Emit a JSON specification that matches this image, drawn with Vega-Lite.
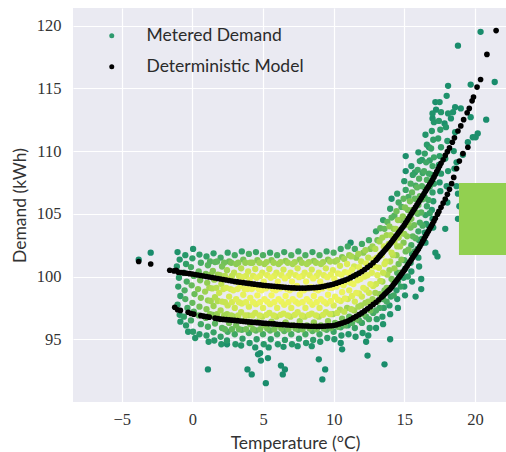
{
  "$schema": "https://vega.github.io/schema/vega-lite/v6.json",
  "width": 433,
  "height": 394,
  "autosize": "none",
  "padding": {"left": 73, "top": 8, "right": 0, "bottom": 50},
  "background": "#ffffff",
  "datasets": {
    "metered": [
      {"temp":-1.05,"kwh":101.95,"dens":0.08},{"temp":-0.9,"kwh":101.35,"dens":0.12},{"temp":-1.1,"kwh":100.8,"dens":0.14},{"temp":-0.95,"kwh":99.9,"dens":0.18},{"temp":-1.0,"kwh":99.2,"dens":0.2},{"temp":-0.85,"kwh":98.45,"dens":0.2},{"temp":-1.05,"kwh":97.75,"dens":0.18},{"temp":-0.9,"kwh":96.95,"dens":0.15},{"temp":-0.85,"kwh":96.4,"dens":0.12},
      {"temp":-0.5,"kwh":101.7,"dens":0.14},{"temp":-0.45,"kwh":101.0,"dens":0.2},{"temp":-0.6,"kwh":100.3,"dens":0.25},{"temp":-0.4,"kwh":99.6,"dens":0.3},{"temp":-0.55,"kwh":98.9,"dens":0.32},{"temp":-0.5,"kwh":98.2,"dens":0.32},{"temp":-0.35,"kwh":97.5,"dens":0.28},{"temp":-0.6,"kwh":96.8,"dens":0.22},{"temp":-0.45,"kwh":96.1,"dens":0.16},{"temp":-0.3,"kwh":95.6,"dens":0.12},
      {"temp":0.05,"kwh":102.2,"dens":0.1},{"temp":0.0,"kwh":101.45,"dens":0.2},{"temp":-0.1,"kwh":100.75,"dens":0.3},{"temp":0.1,"kwh":100.05,"dens":0.36},{"temp":-0.05,"kwh":99.3,"dens":0.4},{"temp":0.15,"kwh":98.6,"dens":0.42},{"temp":0.0,"kwh":97.9,"dens":0.4},{"temp":0.1,"kwh":97.2,"dens":0.35},{"temp":-0.1,"kwh":96.5,"dens":0.28},{"temp":0.05,"kwh":95.6,"dens":0.18},{"temp":0.2,"kwh":95.1,"dens":0.12},
      {"temp":0.5,"kwh":101.75,"dens":0.2},{"temp":0.6,"kwh":101.1,"dens":0.3},{"temp":0.45,"kwh":100.4,"dens":0.4},{"temp":0.55,"kwh":99.7,"dens":0.46},{"temp":0.4,"kwh":99.0,"dens":0.5},{"temp":0.6,"kwh":98.3,"dens":0.5},{"temp":0.5,"kwh":97.6,"dens":0.45},{"temp":0.45,"kwh":96.9,"dens":0.38},{"temp":0.6,"kwh":96.2,"dens":0.28},{"temp":0.5,"kwh":95.4,"dens":0.16},
      {"temp":1.0,"kwh":101.6,"dens":0.22},{"temp":1.1,"kwh":100.9,"dens":0.36},{"temp":0.95,"kwh":100.2,"dens":0.46},{"temp":1.05,"kwh":99.5,"dens":0.54},{"temp":0.9,"kwh":98.8,"dens":0.58},{"temp":1.1,"kwh":98.1,"dens":0.56},{"temp":1.0,"kwh":97.4,"dens":0.5},{"temp":0.95,"kwh":96.7,"dens":0.4},{"temp":1.1,"kwh":96.0,"dens":0.3},{"temp":1.0,"kwh":95.3,"dens":0.18},{"temp":1.15,"kwh":94.8,"dens":0.12},
      {"temp":1.5,"kwh":101.85,"dens":0.2},{"temp":1.6,"kwh":101.15,"dens":0.38},{"temp":1.45,"kwh":100.45,"dens":0.5},{"temp":1.55,"kwh":99.75,"dens":0.6},{"temp":1.4,"kwh":99.05,"dens":0.66},{"temp":1.6,"kwh":98.35,"dens":0.66},{"temp":1.5,"kwh":97.65,"dens":0.58},{"temp":1.45,"kwh":96.95,"dens":0.48},{"temp":1.6,"kwh":96.25,"dens":0.36},{"temp":1.5,"kwh":95.55,"dens":0.24},{"temp":1.55,"kwh":94.9,"dens":0.14},
      {"temp":2.0,"kwh":101.5,"dens":0.28},{"temp":2.1,"kwh":100.8,"dens":0.46},{"temp":1.95,"kwh":100.1,"dens":0.6},{"temp":2.05,"kwh":99.4,"dens":0.7},{"temp":1.9,"kwh":98.7,"dens":0.74},{"temp":2.1,"kwh":98.0,"dens":0.72},{"temp":2.0,"kwh":97.3,"dens":0.62},{"temp":1.95,"kwh":96.6,"dens":0.5},{"temp":2.1,"kwh":95.9,"dens":0.36},{"temp":2.0,"kwh":95.2,"dens":0.22},{"temp":2.05,"kwh":94.6,"dens":0.12},
      {"temp":2.5,"kwh":101.9,"dens":0.22},{"temp":2.6,"kwh":101.2,"dens":0.42},{"temp":2.45,"kwh":100.5,"dens":0.6},{"temp":2.55,"kwh":99.8,"dens":0.72},{"temp":2.4,"kwh":99.1,"dens":0.8},{"temp":2.6,"kwh":98.4,"dens":0.8},{"temp":2.5,"kwh":97.7,"dens":0.72},{"temp":2.45,"kwh":97.0,"dens":0.6},{"temp":2.6,"kwh":96.3,"dens":0.45},{"temp":2.5,"kwh":95.6,"dens":0.3},{"temp":2.45,"kwh":94.9,"dens":0.16},
      {"temp":3.0,"kwh":101.7,"dens":0.3},{"temp":3.1,"kwh":101.0,"dens":0.52},{"temp":2.95,"kwh":100.3,"dens":0.7},{"temp":3.05,"kwh":99.6,"dens":0.82},{"temp":2.9,"kwh":98.9,"dens":0.87},{"temp":3.1,"kwh":98.2,"dens":0.85},{"temp":3.0,"kwh":97.5,"dens":0.74},{"temp":2.95,"kwh":96.8,"dens":0.6},{"temp":3.1,"kwh":96.1,"dens":0.44},{"temp":3.0,"kwh":95.4,"dens":0.28},{"temp":3.05,"kwh":94.6,"dens":0.14},
      {"temp":3.5,"kwh":102.0,"dens":0.22},{"temp":3.6,"kwh":101.35,"dens":0.45},{"temp":3.45,"kwh":100.65,"dens":0.68},{"temp":3.55,"kwh":99.95,"dens":0.84},{"temp":3.4,"kwh":99.25,"dens":0.91},{"temp":3.6,"kwh":98.55,"dens":0.91},{"temp":3.5,"kwh":97.85,"dens":0.84},{"temp":3.45,"kwh":97.15,"dens":0.7},{"temp":3.6,"kwh":96.45,"dens":0.52},{"temp":3.5,"kwh":95.75,"dens":0.36},{"temp":3.55,"kwh":95.05,"dens":0.2},{"temp":3.45,"kwh":94.5,"dens":0.12},
      {"temp":4.0,"kwh":101.8,"dens":0.32},{"temp":4.1,"kwh":101.1,"dens":0.58},{"temp":3.95,"kwh":100.4,"dens":0.78},{"temp":4.05,"kwh":99.7,"dens":0.9},{"temp":3.9,"kwh":99.0,"dens":0.95},{"temp":4.1,"kwh":98.3,"dens":0.93},{"temp":4.0,"kwh":97.6,"dens":0.82},{"temp":3.95,"kwh":96.9,"dens":0.66},{"temp":4.1,"kwh":96.2,"dens":0.48},{"temp":4.0,"kwh":95.5,"dens":0.3},{"temp":4.05,"kwh":94.7,"dens":0.15},
      {"temp":4.5,"kwh":101.95,"dens":0.25},{"temp":4.6,"kwh":101.3,"dens":0.5},{"temp":4.45,"kwh":100.6,"dens":0.74},{"temp":4.55,"kwh":99.9,"dens":0.9},{"temp":4.4,"kwh":99.2,"dens":0.97},{"temp":4.6,"kwh":98.5,"dens":0.97},{"temp":4.5,"kwh":97.8,"dens":0.9},{"temp":4.45,"kwh":97.1,"dens":0.74},{"temp":4.6,"kwh":96.4,"dens":0.56},{"temp":4.5,"kwh":95.7,"dens":0.38},{"temp":4.55,"kwh":95.0,"dens":0.2},{"temp":4.45,"kwh":94.35,"dens":0.1},
      {"temp":5.0,"kwh":101.7,"dens":0.33},{"temp":5.1,"kwh":101.0,"dens":0.6},{"temp":4.95,"kwh":100.3,"dens":0.82},{"temp":5.05,"kwh":99.6,"dens":0.94},{"temp":4.9,"kwh":98.9,"dens":0.99},{"temp":5.1,"kwh":98.2,"dens":0.97},{"temp":5.0,"kwh":97.5,"dens":0.87},{"temp":4.95,"kwh":96.8,"dens":0.7},{"temp":5.1,"kwh":96.1,"dens":0.5},{"temp":5.0,"kwh":95.4,"dens":0.3},{"temp":5.05,"kwh":94.6,"dens":0.15},
      {"temp":5.5,"kwh":101.9,"dens":0.26},{"temp":5.6,"kwh":101.3,"dens":0.5},{"temp":5.45,"kwh":100.6,"dens":0.75},{"temp":5.55,"kwh":99.9,"dens":0.92},{"temp":5.4,"kwh":99.2,"dens":1.0},{"temp":5.6,"kwh":98.5,"dens":1.0},{"temp":5.5,"kwh":97.8,"dens":0.92},{"temp":5.45,"kwh":97.1,"dens":0.76},{"temp":5.6,"kwh":96.4,"dens":0.57},{"temp":5.5,"kwh":95.7,"dens":0.38},{"temp":5.55,"kwh":95.0,"dens":0.2},{"temp":5.4,"kwh":94.35,"dens":0.1},
      {"temp":6.0,"kwh":101.7,"dens":0.32},{"temp":6.1,"kwh":101.0,"dens":0.6},{"temp":5.95,"kwh":100.3,"dens":0.83},{"temp":6.05,"kwh":99.6,"dens":0.96},{"temp":5.9,"kwh":98.9,"dens":1.0},{"temp":6.1,"kwh":98.2,"dens":0.98},{"temp":6.0,"kwh":97.5,"dens":0.88},{"temp":5.95,"kwh":96.8,"dens":0.7},{"temp":6.1,"kwh":96.1,"dens":0.5},{"temp":6.0,"kwh":95.4,"dens":0.3},{"temp":6.05,"kwh":94.6,"dens":0.15},
      {"temp":6.5,"kwh":101.95,"dens":0.27},{"temp":6.6,"kwh":101.25,"dens":0.52},{"temp":6.45,"kwh":100.55,"dens":0.78},{"temp":6.55,"kwh":99.85,"dens":0.94},{"temp":6.4,"kwh":99.15,"dens":1.0},{"temp":6.6,"kwh":98.45,"dens":1.0},{"temp":6.5,"kwh":97.75,"dens":0.93},{"temp":6.45,"kwh":97.05,"dens":0.77},{"temp":6.6,"kwh":96.35,"dens":0.57},{"temp":6.5,"kwh":95.65,"dens":0.37},{"temp":6.55,"kwh":94.95,"dens":0.2},{"temp":6.45,"kwh":94.4,"dens":0.1},
      {"temp":7.0,"kwh":101.7,"dens":0.33},{"temp":7.1,"kwh":101.0,"dens":0.62},{"temp":6.95,"kwh":100.3,"dens":0.85},{"temp":7.05,"kwh":99.6,"dens":0.97},{"temp":6.9,"kwh":98.9,"dens":1.0},{"temp":7.1,"kwh":98.2,"dens":0.98},{"temp":7.0,"kwh":97.5,"dens":0.88},{"temp":6.95,"kwh":96.8,"dens":0.7},{"temp":7.1,"kwh":96.1,"dens":0.5},{"temp":7.0,"kwh":95.4,"dens":0.3},{"temp":7.05,"kwh":94.6,"dens":0.15},
      {"temp":7.5,"kwh":102.0,"dens":0.26},{"temp":7.6,"kwh":101.35,"dens":0.5},{"temp":7.45,"kwh":100.65,"dens":0.76},{"temp":7.55,"kwh":99.95,"dens":0.94},{"temp":7.4,"kwh":99.25,"dens":1.0},{"temp":7.6,"kwh":98.55,"dens":1.0},{"temp":7.5,"kwh":97.85,"dens":0.94},{"temp":7.45,"kwh":97.15,"dens":0.78},{"temp":7.6,"kwh":96.45,"dens":0.58},{"temp":7.5,"kwh":95.75,"dens":0.38},{"temp":7.55,"kwh":95.05,"dens":0.2},{"temp":7.45,"kwh":94.45,"dens":0.1},
      {"temp":8.0,"kwh":101.7,"dens":0.32},{"temp":8.1,"kwh":101.0,"dens":0.62},{"temp":7.95,"kwh":100.3,"dens":0.86},{"temp":8.05,"kwh":99.6,"dens":0.98},{"temp":7.9,"kwh":98.9,"dens":1.0},{"temp":8.1,"kwh":98.2,"dens":0.98},{"temp":8.0,"kwh":97.5,"dens":0.88},{"temp":7.95,"kwh":96.8,"dens":0.7},{"temp":8.1,"kwh":96.1,"dens":0.5},{"temp":8.0,"kwh":95.4,"dens":0.3},{"temp":8.05,"kwh":94.7,"dens":0.15},
      {"temp":8.5,"kwh":101.95,"dens":0.26},{"temp":8.6,"kwh":101.25,"dens":0.52},{"temp":8.45,"kwh":100.55,"dens":0.78},{"temp":8.55,"kwh":99.85,"dens":0.95},{"temp":8.4,"kwh":99.15,"dens":1.0},{"temp":8.6,"kwh":98.45,"dens":0.99},{"temp":8.5,"kwh":97.75,"dens":0.92},{"temp":8.45,"kwh":97.05,"dens":0.76},{"temp":8.6,"kwh":96.35,"dens":0.56},{"temp":8.5,"kwh":95.65,"dens":0.36},{"temp":8.55,"kwh":94.95,"dens":0.19},{"temp":8.45,"kwh":94.45,"dens":0.1},
      {"temp":9.0,"kwh":101.7,"dens":0.33},{"temp":9.1,"kwh":101.0,"dens":0.62},{"temp":8.95,"kwh":100.3,"dens":0.86},{"temp":9.05,"kwh":99.6,"dens":0.97},{"temp":8.9,"kwh":98.9,"dens":1.0},{"temp":9.1,"kwh":98.2,"dens":0.97},{"temp":9.0,"kwh":97.5,"dens":0.86},{"temp":8.95,"kwh":96.8,"dens":0.68},{"temp":9.1,"kwh":96.1,"dens":0.48},{"temp":9.0,"kwh":95.4,"dens":0.28},{"temp":9.05,"kwh":94.8,"dens":0.14},
      {"temp":9.5,"kwh":102.0,"dens":0.26},{"temp":9.6,"kwh":101.35,"dens":0.5},{"temp":9.45,"kwh":100.65,"dens":0.76},{"temp":9.55,"kwh":99.95,"dens":0.93},{"temp":9.4,"kwh":99.25,"dens":0.99},{"temp":9.6,"kwh":98.55,"dens":0.98},{"temp":9.5,"kwh":97.85,"dens":0.9},{"temp":9.45,"kwh":97.15,"dens":0.74},{"temp":9.6,"kwh":96.45,"dens":0.54},{"temp":9.5,"kwh":95.75,"dens":0.34},{"temp":9.55,"kwh":95.1,"dens":0.18},
      {"temp":10.0,"kwh":101.9,"dens":0.32},{"temp":10.1,"kwh":101.2,"dens":0.6},{"temp":9.95,"kwh":100.5,"dens":0.84},{"temp":10.05,"kwh":99.8,"dens":0.96},{"temp":9.9,"kwh":99.1,"dens":0.98},{"temp":10.1,"kwh":98.4,"dens":0.94},{"temp":10.0,"kwh":97.7,"dens":0.82},{"temp":9.95,"kwh":97.0,"dens":0.62},{"temp":10.1,"kwh":96.3,"dens":0.44},{"temp":10.0,"kwh":95.6,"dens":0.26},{"temp":10.05,"kwh":95.0,"dens":0.13},
      {"temp":10.5,"kwh":102.2,"dens":0.26},{"temp":10.6,"kwh":101.55,"dens":0.5},{"temp":10.45,"kwh":100.85,"dens":0.76},{"temp":10.55,"kwh":100.15,"dens":0.93},{"temp":10.4,"kwh":99.45,"dens":0.97},{"temp":10.6,"kwh":98.75,"dens":0.94},{"temp":10.5,"kwh":98.05,"dens":0.84},{"temp":10.45,"kwh":97.35,"dens":0.66},{"temp":10.6,"kwh":96.65,"dens":0.46},{"temp":10.5,"kwh":95.95,"dens":0.28},{"temp":10.55,"kwh":95.3,"dens":0.14},
      {"temp":11.0,"kwh":102.4,"dens":0.28},{"temp":11.1,"kwh":101.7,"dens":0.58},{"temp":10.95,"kwh":101.0,"dens":0.84},{"temp":11.05,"kwh":100.3,"dens":0.95},{"temp":10.9,"kwh":99.6,"dens":0.96},{"temp":11.1,"kwh":98.9,"dens":0.9},{"temp":11.0,"kwh":98.2,"dens":0.76},{"temp":10.95,"kwh":97.5,"dens":0.58},{"temp":11.1,"kwh":96.8,"dens":0.4},{"temp":11.0,"kwh":96.1,"dens":0.24},{"temp":11.05,"kwh":95.4,"dens":0.12},
      {"temp":11.5,"kwh":102.2,"dens":0.28},{"temp":11.6,"kwh":101.5,"dens":0.55},{"temp":11.45,"kwh":100.8,"dens":0.78},{"temp":11.55,"kwh":100.1,"dens":0.9},{"temp":11.4,"kwh":99.4,"dens":0.95},{"temp":11.6,"kwh":98.7,"dens":0.9},{"temp":11.5,"kwh":98.0,"dens":0.78},{"temp":11.45,"kwh":97.3,"dens":0.6},{"temp":11.6,"kwh":96.6,"dens":0.42},{"temp":11.5,"kwh":95.9,"dens":0.25},{"temp":11.55,"kwh":95.2,"dens":0.12},
      {"temp":12.0,"kwh":102.6,"dens":0.28},{"temp":12.1,"kwh":101.9,"dens":0.52},{"temp":11.95,"kwh":101.2,"dens":0.74},{"temp":12.05,"kwh":100.5,"dens":0.88},{"temp":11.9,"kwh":99.8,"dens":0.92},{"temp":12.1,"kwh":99.1,"dens":0.88},{"temp":12.0,"kwh":98.4,"dens":0.76},{"temp":11.95,"kwh":97.7,"dens":0.6},{"temp":12.1,"kwh":97.0,"dens":0.42},{"temp":12.0,"kwh":96.3,"dens":0.26},{"temp":12.05,"kwh":95.5,"dens":0.12},
      {"temp":12.5,"kwh":102.9,"dens":0.28},{"temp":12.6,"kwh":102.2,"dens":0.5},{"temp":12.45,"kwh":101.5,"dens":0.7},{"temp":12.55,"kwh":100.8,"dens":0.84},{"temp":12.4,"kwh":100.1,"dens":0.88},{"temp":12.6,"kwh":99.4,"dens":0.86},{"temp":12.5,"kwh":98.7,"dens":0.75},{"temp":12.45,"kwh":98.0,"dens":0.6},{"temp":12.6,"kwh":97.3,"dens":0.44},{"temp":12.5,"kwh":96.6,"dens":0.3},{"temp":12.55,"kwh":95.9,"dens":0.18},{"temp":12.45,"kwh":95.3,"dens":0.1},
      {"temp":13.0,"kwh":103.6,"dens":0.25},{"temp":13.1,"kwh":102.9,"dens":0.45},{"temp":12.95,"kwh":102.2,"dens":0.66},{"temp":13.05,"kwh":101.5,"dens":0.8},{"temp":12.9,"kwh":100.8,"dens":0.85},{"temp":13.1,"kwh":100.1,"dens":0.84},{"temp":13.0,"kwh":99.4,"dens":0.74},{"temp":12.95,"kwh":98.7,"dens":0.6},{"temp":13.1,"kwh":98.0,"dens":0.45},{"temp":13.0,"kwh":97.3,"dens":0.32},{"temp":13.05,"kwh":96.6,"dens":0.2},{"temp":13.0,"kwh":95.9,"dens":0.12},
      {"temp":13.5,"kwh":104.5,"dens":0.22},{"temp":13.6,"kwh":103.8,"dens":0.4},{"temp":13.45,"kwh":103.1,"dens":0.6},{"temp":13.55,"kwh":102.4,"dens":0.74},{"temp":13.4,"kwh":101.7,"dens":0.8},{"temp":13.6,"kwh":101.0,"dens":0.8},{"temp":13.5,"kwh":100.3,"dens":0.72},{"temp":13.45,"kwh":99.6,"dens":0.6},{"temp":13.6,"kwh":98.9,"dens":0.46},{"temp":13.5,"kwh":98.2,"dens":0.33},{"temp":13.55,"kwh":97.5,"dens":0.22},{"temp":13.45,"kwh":96.8,"dens":0.14},{"temp":13.5,"kwh":96.2,"dens":0.1},
      {"temp":14.0,"kwh":105.4,"dens":0.2},{"temp":14.1,"kwh":104.7,"dens":0.36},{"temp":13.95,"kwh":104.0,"dens":0.52},{"temp":14.05,"kwh":103.3,"dens":0.64},{"temp":13.9,"kwh":102.6,"dens":0.7},{"temp":14.1,"kwh":101.9,"dens":0.72},{"temp":14.0,"kwh":101.2,"dens":0.68},{"temp":13.95,"kwh":100.5,"dens":0.58},{"temp":14.1,"kwh":99.8,"dens":0.46},{"temp":14.0,"kwh":99.1,"dens":0.34},{"temp":14.05,"kwh":98.4,"dens":0.24},{"temp":13.95,"kwh":97.7,"dens":0.16},{"temp":14.0,"kwh":97.0,"dens":0.1},
      {"temp":14.5,"kwh":106.6,"dens":0.18},{"temp":14.6,"kwh":105.9,"dens":0.3},{"temp":14.45,"kwh":105.2,"dens":0.44},{"temp":14.55,"kwh":104.5,"dens":0.56},{"temp":14.4,"kwh":103.8,"dens":0.62},{"temp":14.6,"kwh":103.1,"dens":0.64},{"temp":14.5,"kwh":102.4,"dens":0.62},{"temp":14.45,"kwh":101.7,"dens":0.54},{"temp":14.6,"kwh":101.0,"dens":0.44},{"temp":14.5,"kwh":100.3,"dens":0.34},{"temp":14.55,"kwh":99.6,"dens":0.24},{"temp":14.45,"kwh":98.9,"dens":0.16},{"temp":14.5,"kwh":98.2,"dens":0.12},{"temp":14.55,"kwh":97.5,"dens":0.1},
      {"temp":15.0,"kwh":107.6,"dens":0.16},{"temp":15.1,"kwh":106.9,"dens":0.26},{"temp":14.95,"kwh":106.2,"dens":0.38},{"temp":15.05,"kwh":105.5,"dens":0.48},{"temp":14.9,"kwh":104.8,"dens":0.54},{"temp":15.1,"kwh":104.1,"dens":0.56},{"temp":15.0,"kwh":103.4,"dens":0.55},{"temp":14.95,"kwh":102.7,"dens":0.5},{"temp":15.1,"kwh":102.0,"dens":0.42},{"temp":15.0,"kwh":101.3,"dens":0.33},{"temp":15.05,"kwh":100.6,"dens":0.24},{"temp":14.95,"kwh":99.9,"dens":0.17},{"temp":15.0,"kwh":99.2,"dens":0.12},{"temp":15.05,"kwh":98.5,"dens":0.1},
      {"temp":15.5,"kwh":108.8,"dens":0.14},{"temp":15.6,"kwh":108.1,"dens":0.22},{"temp":15.45,"kwh":107.4,"dens":0.32},{"temp":15.55,"kwh":106.7,"dens":0.4},{"temp":15.4,"kwh":106.0,"dens":0.46},{"temp":15.6,"kwh":105.3,"dens":0.48},{"temp":15.5,"kwh":104.6,"dens":0.48},{"temp":15.45,"kwh":103.9,"dens":0.44},{"temp":15.6,"kwh":103.2,"dens":0.38},{"temp":15.5,"kwh":102.5,"dens":0.3},{"temp":15.55,"kwh":101.8,"dens":0.22},{"temp":15.45,"kwh":101.1,"dens":0.16},{"temp":15.5,"kwh":100.4,"dens":0.12},{"temp":15.55,"kwh":99.6,"dens":0.1},
      {"temp":16.0,"kwh":109.9,"dens":0.12},{"temp":16.1,"kwh":109.2,"dens":0.2},{"temp":15.95,"kwh":108.5,"dens":0.27},{"temp":16.05,"kwh":107.8,"dens":0.33},{"temp":15.9,"kwh":107.1,"dens":0.38},{"temp":16.1,"kwh":106.4,"dens":0.4},{"temp":16.0,"kwh":105.7,"dens":0.4},{"temp":15.95,"kwh":105.0,"dens":0.37},{"temp":16.1,"kwh":104.3,"dens":0.32},{"temp":16.0,"kwh":103.6,"dens":0.26},{"temp":16.05,"kwh":102.9,"dens":0.2},{"temp":15.95,"kwh":102.2,"dens":0.15},{"temp":16.0,"kwh":101.5,"dens":0.12},{"temp":16.05,"kwh":100.8,"dens":0.1},
      {"temp":16.5,"kwh":111.3,"dens":0.1},{"temp":16.6,"kwh":110.5,"dens":0.16},{"temp":16.45,"kwh":109.8,"dens":0.22},{"temp":16.55,"kwh":109.1,"dens":0.27},{"temp":16.4,"kwh":108.4,"dens":0.31},{"temp":16.6,"kwh":107.7,"dens":0.33},{"temp":16.5,"kwh":107.0,"dens":0.33},{"temp":16.45,"kwh":106.3,"dens":0.3},{"temp":16.6,"kwh":105.6,"dens":0.26},{"temp":16.5,"kwh":104.9,"dens":0.21},{"temp":16.55,"kwh":104.2,"dens":0.16},{"temp":16.45,"kwh":103.5,"dens":0.12},{"temp":16.5,"kwh":102.7,"dens":0.1},
      {"temp":17.0,"kwh":113.0,"dens":0.08},{"temp":17.1,"kwh":112.3,"dens":0.12},{"temp":16.95,"kwh":111.6,"dens":0.16},{"temp":17.05,"kwh":110.9,"dens":0.2},{"temp":16.9,"kwh":110.2,"dens":0.24},{"temp":17.1,"kwh":109.5,"dens":0.26},{"temp":17.0,"kwh":108.8,"dens":0.27},{"temp":16.95,"kwh":108.1,"dens":0.26},{"temp":17.1,"kwh":107.4,"dens":0.24},{"temp":17.0,"kwh":106.7,"dens":0.2},{"temp":17.05,"kwh":106.0,"dens":0.16},{"temp":16.95,"kwh":105.3,"dens":0.13},{"temp":17.0,"kwh":104.6,"dens":0.1},{"temp":17.05,"kwh":103.9,"dens":0.08},
      {"temp":17.5,"kwh":113.9,"dens":0.08},{"temp":17.6,"kwh":113.1,"dens":0.12},{"temp":17.45,"kwh":112.4,"dens":0.15},{"temp":17.55,"kwh":111.7,"dens":0.18},{"temp":17.4,"kwh":111.0,"dens":0.2},{"temp":17.6,"kwh":110.3,"dens":0.2},{"temp":17.5,"kwh":109.6,"dens":0.2},{"temp":17.45,"kwh":108.9,"dens":0.18},{"temp":17.6,"kwh":108.2,"dens":0.15},{"temp":17.5,"kwh":107.5,"dens":0.12},{"temp":17.55,"kwh":106.8,"dens":0.1},
      {"temp":18.0,"kwh":114.4,"dens":0.08},{"temp":18.1,"kwh":113.0,"dens":0.1},{"temp":17.95,"kwh":111.9,"dens":0.12},{"temp":18.05,"kwh":110.8,"dens":0.13},{"temp":17.9,"kwh":109.4,"dens":0.14},{"temp":18.1,"kwh":108.4,"dens":0.12},{"temp":18.0,"kwh":107.2,"dens":0.1},{"temp":18.05,"kwh":105.9,"dens":0.08},
      {"temp":18.45,"kwh":113.1,"dens":0.08},{"temp":18.6,"kwh":111.5,"dens":0.09},{"temp":18.5,"kwh":110.0,"dens":0.1},{"temp":18.55,"kwh":108.6,"dens":0.09},{"temp":18.7,"kwh":107.2,"dens":0.08},
      {"temp":1.25,"kwh":97.0,"dens":0.52},{"temp":1.3,"kwh":98.05,"dens":0.6},{"temp":1.2,"kwh":99.1,"dens":0.62},{"temp":1.3,"kwh":100.15,"dens":0.52},{"temp":1.25,"kwh":101.2,"dens":0.35},
      {"temp":1.75,"kwh":97.0,"dens":0.56},{"temp":1.8,"kwh":98.05,"dens":0.66},{"temp":1.7,"kwh":99.1,"dens":0.68},{"temp":1.8,"kwh":100.15,"dens":0.58},{"temp":1.75,"kwh":101.2,"dens":0.38},
      {"temp":2.25,"kwh":96.9,"dens":0.6},{"temp":2.3,"kwh":97.95,"dens":0.72},{"temp":2.2,"kwh":99.0,"dens":0.76},{"temp":2.3,"kwh":100.05,"dens":0.66},{"temp":2.25,"kwh":101.1,"dens":0.44},{"temp":2.3,"kwh":95.8,"dens":0.38},
      {"temp":2.75,"kwh":96.9,"dens":0.64},{"temp":2.8,"kwh":97.95,"dens":0.78},{"temp":2.7,"kwh":99.0,"dens":0.82},{"temp":2.8,"kwh":100.05,"dens":0.7},{"temp":2.75,"kwh":101.1,"dens":0.48},{"temp":2.8,"kwh":95.8,"dens":0.4},
      {"temp":3.25,"kwh":96.9,"dens":0.68},{"temp":3.3,"kwh":97.95,"dens":0.84},{"temp":3.2,"kwh":99.0,"dens":0.88},{"temp":3.3,"kwh":100.05,"dens":0.76},{"temp":3.25,"kwh":101.1,"dens":0.52},{"temp":3.3,"kwh":95.8,"dens":0.42},
      {"temp":3.75,"kwh":96.9,"dens":0.72},{"temp":3.8,"kwh":97.95,"dens":0.88},{"temp":3.7,"kwh":99.0,"dens":0.92},{"temp":3.8,"kwh":100.05,"dens":0.8},{"temp":3.75,"kwh":101.1,"dens":0.56},{"temp":3.8,"kwh":95.8,"dens":0.44},
      {"temp":4.25,"kwh":96.9,"dens":0.74},{"temp":4.3,"kwh":97.95,"dens":0.92},{"temp":4.2,"kwh":99.0,"dens":0.96},{"temp":4.3,"kwh":100.05,"dens":0.84},{"temp":4.25,"kwh":101.1,"dens":0.58},{"temp":4.3,"kwh":95.8,"dens":0.46},
      {"temp":4.75,"kwh":96.9,"dens":0.76},{"temp":4.8,"kwh":97.95,"dens":0.95},{"temp":4.7,"kwh":99.0,"dens":1.0},{"temp":4.8,"kwh":100.05,"dens":0.88},{"temp":4.75,"kwh":101.1,"dens":0.6},{"temp":4.8,"kwh":95.8,"dens":0.46},
      {"temp":5.25,"kwh":96.95,"dens":0.76},{"temp":5.3,"kwh":98.0,"dens":0.95},{"temp":5.2,"kwh":99.05,"dens":1.0},{"temp":5.3,"kwh":100.1,"dens":0.88},{"temp":5.25,"kwh":101.15,"dens":0.6},{"temp":5.3,"kwh":95.85,"dens":0.46},
      {"temp":5.75,"kwh":96.9,"dens":0.76},{"temp":5.8,"kwh":97.95,"dens":0.95},{"temp":5.7,"kwh":99.0,"dens":1.0},{"temp":5.8,"kwh":100.05,"dens":0.88},{"temp":5.75,"kwh":101.1,"dens":0.6},{"temp":5.8,"kwh":95.8,"dens":0.46},
      {"temp":6.25,"kwh":96.95,"dens":0.76},{"temp":6.3,"kwh":98.0,"dens":0.95},{"temp":6.2,"kwh":99.05,"dens":1.0},{"temp":6.3,"kwh":100.1,"dens":0.88},{"temp":6.25,"kwh":101.15,"dens":0.6},{"temp":6.3,"kwh":95.85,"dens":0.46},
      {"temp":6.75,"kwh":96.9,"dens":0.76},{"temp":6.8,"kwh":97.95,"dens":0.95},{"temp":6.7,"kwh":99.0,"dens":1.0},{"temp":6.8,"kwh":100.05,"dens":0.88},{"temp":6.75,"kwh":101.1,"dens":0.6},{"temp":6.8,"kwh":95.8,"dens":0.46},
      {"temp":7.25,"kwh":96.95,"dens":0.76},{"temp":7.3,"kwh":98.0,"dens":0.95},{"temp":7.2,"kwh":99.05,"dens":1.0},{"temp":7.3,"kwh":100.1,"dens":0.88},{"temp":7.25,"kwh":101.15,"dens":0.6},{"temp":7.3,"kwh":95.85,"dens":0.46},
      {"temp":7.75,"kwh":96.9,"dens":0.76},{"temp":7.8,"kwh":97.95,"dens":0.95},{"temp":7.7,"kwh":99.0,"dens":1.0},{"temp":7.8,"kwh":100.05,"dens":0.88},{"temp":7.75,"kwh":101.1,"dens":0.6},{"temp":7.8,"kwh":95.8,"dens":0.46},
      {"temp":8.25,"kwh":96.95,"dens":0.76},{"temp":8.3,"kwh":98.0,"dens":0.95},{"temp":8.2,"kwh":99.05,"dens":1.0},{"temp":8.3,"kwh":100.1,"dens":0.88},{"temp":8.25,"kwh":101.15,"dens":0.6},{"temp":8.3,"kwh":95.85,"dens":0.46},
      {"temp":8.75,"kwh":96.9,"dens":0.76},{"temp":8.8,"kwh":97.95,"dens":0.95},{"temp":8.7,"kwh":99.0,"dens":1.0},{"temp":8.8,"kwh":100.05,"dens":0.88},{"temp":8.75,"kwh":101.1,"dens":0.6},{"temp":8.8,"kwh":95.8,"dens":0.46},
      {"temp":9.25,"kwh":96.95,"dens":0.76},{"temp":9.3,"kwh":98.0,"dens":0.95},{"temp":9.2,"kwh":99.05,"dens":1.0},{"temp":9.3,"kwh":100.1,"dens":0.88},{"temp":9.25,"kwh":101.15,"dens":0.6},{"temp":9.3,"kwh":95.85,"dens":0.44},
      {"temp":9.75,"kwh":97.0,"dens":0.74},{"temp":9.8,"kwh":98.05,"dens":0.94},{"temp":9.7,"kwh":99.1,"dens":1.0},{"temp":9.8,"kwh":100.15,"dens":0.9},{"temp":9.75,"kwh":101.2,"dens":0.62},{"temp":9.8,"kwh":95.9,"dens":0.42},
      {"temp":10.25,"kwh":97.1,"dens":0.72},{"temp":10.3,"kwh":98.15,"dens":0.92},{"temp":10.2,"kwh":99.2,"dens":0.98},{"temp":10.3,"kwh":100.25,"dens":0.9},{"temp":10.25,"kwh":101.3,"dens":0.62},{"temp":10.3,"kwh":96.0,"dens":0.4},
      {"temp":10.75,"kwh":97.2,"dens":0.7},{"temp":10.8,"kwh":98.25,"dens":0.9},{"temp":10.7,"kwh":99.3,"dens":0.96},{"temp":10.8,"kwh":100.35,"dens":0.9},{"temp":10.75,"kwh":101.4,"dens":0.62},{"temp":10.8,"kwh":96.1,"dens":0.36},
      {"temp":11.25,"kwh":97.4,"dens":0.66},{"temp":11.3,"kwh":98.45,"dens":0.86},{"temp":11.2,"kwh":99.5,"dens":0.94},{"temp":11.3,"kwh":100.55,"dens":0.9},{"temp":11.25,"kwh":101.6,"dens":0.62},{"temp":11.3,"kwh":96.3,"dens":0.34},
      {"temp":11.75,"kwh":97.6,"dens":0.62},{"temp":11.8,"kwh":98.65,"dens":0.82},{"temp":11.7,"kwh":99.7,"dens":0.92},{"temp":11.8,"kwh":100.75,"dens":0.88},{"temp":11.75,"kwh":101.8,"dens":0.6},{"temp":11.8,"kwh":96.5,"dens":0.32},
      {"temp":12.25,"kwh":97.9,"dens":0.6},{"temp":12.3,"kwh":98.95,"dens":0.8},{"temp":12.2,"kwh":100.0,"dens":0.88},{"temp":12.3,"kwh":101.05,"dens":0.85},{"temp":12.25,"kwh":102.1,"dens":0.6},{"temp":12.3,"kwh":96.8,"dens":0.32},
      {"temp":12.75,"kwh":98.2,"dens":0.58},{"temp":12.8,"kwh":99.25,"dens":0.76},{"temp":12.7,"kwh":100.3,"dens":0.84},{"temp":12.8,"kwh":101.35,"dens":0.82},{"temp":12.75,"kwh":102.4,"dens":0.58},{"temp":12.8,"kwh":97.1,"dens":0.3},
      {"temp":13.25,"kwh":98.6,"dens":0.54},{"temp":13.3,"kwh":99.65,"dens":0.7},{"temp":13.2,"kwh":100.7,"dens":0.8},{"temp":13.3,"kwh":101.75,"dens":0.78},{"temp":13.25,"kwh":102.8,"dens":0.6},{"temp":13.3,"kwh":103.85,"dens":0.38},{"temp":13.25,"kwh":97.5,"dens":0.28},
      {"temp":13.75,"kwh":99.1,"dens":0.5},{"temp":13.8,"kwh":100.15,"dens":0.64},{"temp":13.7,"kwh":101.2,"dens":0.75},{"temp":13.8,"kwh":102.25,"dens":0.76},{"temp":13.75,"kwh":103.3,"dens":0.6},{"temp":13.8,"kwh":104.35,"dens":0.38},{"temp":13.75,"kwh":98.0,"dens":0.3},
      {"temp":14.25,"kwh":99.6,"dens":0.44},{"temp":14.3,"kwh":100.65,"dens":0.58},{"temp":14.2,"kwh":101.7,"dens":0.68},{"temp":14.3,"kwh":102.75,"dens":0.68},{"temp":14.25,"kwh":103.8,"dens":0.56},{"temp":14.3,"kwh":104.85,"dens":0.36},{"temp":14.25,"kwh":98.5,"dens":0.28},
      {"temp":14.75,"kwh":100.3,"dens":0.4},{"temp":14.8,"kwh":101.35,"dens":0.5},{"temp":14.7,"kwh":102.4,"dens":0.6},{"temp":14.8,"kwh":103.45,"dens":0.6},{"temp":14.75,"kwh":104.5,"dens":0.5},{"temp":14.8,"kwh":105.55,"dens":0.34},{"temp":14.75,"kwh":99.2,"dens":0.24},
      {"temp":15.25,"kwh":101.1,"dens":0.34},{"temp":15.3,"kwh":102.15,"dens":0.44},{"temp":15.2,"kwh":103.2,"dens":0.52},{"temp":15.3,"kwh":104.25,"dens":0.52},{"temp":15.25,"kwh":105.3,"dens":0.46},{"temp":15.3,"kwh":106.35,"dens":0.32},{"temp":15.25,"kwh":100.0,"dens":0.2},
      {"temp":15.75,"kwh":102.0,"dens":0.28},{"temp":15.8,"kwh":103.05,"dens":0.36},{"temp":15.7,"kwh":104.1,"dens":0.44},{"temp":15.8,"kwh":105.15,"dens":0.44},{"temp":15.75,"kwh":106.2,"dens":0.4},{"temp":15.8,"kwh":107.25,"dens":0.3},{"temp":15.75,"kwh":108.3,"dens":0.2},
      {"temp":16.25,"kwh":103.0,"dens":0.22},{"temp":16.3,"kwh":104.05,"dens":0.3},{"temp":16.2,"kwh":105.1,"dens":0.36},{"temp":16.3,"kwh":106.15,"dens":0.37},{"temp":16.25,"kwh":107.2,"dens":0.34},{"temp":16.3,"kwh":108.25,"dens":0.27},{"temp":16.25,"kwh":109.3,"dens":0.18},
      {"temp":16.75,"kwh":104.0,"dens":0.16},{"temp":16.8,"kwh":105.05,"dens":0.24},{"temp":16.7,"kwh":106.1,"dens":0.29},{"temp":16.8,"kwh":107.15,"dens":0.3},{"temp":16.75,"kwh":108.2,"dens":0.28},{"temp":16.8,"kwh":109.25,"dens":0.22},{"temp":16.75,"kwh":110.3,"dens":0.15},
      {"temp":-3.8,"kwh":101.35,"dens":0.02},{"temp":-2.95,"kwh":101.9,"dens":0.02},{"temp":1.1,"kwh":92.6,"dens":0.02},{"temp":2.45,"kwh":94.6,"dens":0.05},{"temp":3.9,"kwh":92.6,"dens":0.03},{"temp":4.2,"kwh":92.2,"dens":0.03},{"temp":4.65,"kwh":93.8,"dens":0.05},{"temp":4.85,"kwh":93.3,"dens":0.04},{"temp":5.2,"kwh":91.5,"dens":0.02},{"temp":6.27,"kwh":92.9,"dens":0.03},{"temp":6.55,"kwh":92.6,"dens":0.03},{"temp":6.4,"kwh":92.2,"dens":0.03},{"temp":9.4,"kwh":92.6,"dens":0.02},{"temp":9.2,"kwh":91.8,"dens":0.02},{"temp":10.5,"kwh":94.7,"dens":0.06},{"temp":10.6,"kwh":94.2,"dens":0.05},{"temp":12.3,"kwh":94.8,"dens":0.06},{"temp":12.4,"kwh":93.7,"dens":0.04},{"temp":13.6,"kwh":93.0,"dens":0.03},{"temp":14.0,"kwh":95.0,"dens":0.05},{"temp":15.8,"kwh":98.4,"dens":0.06},{"temp":16.2,"kwh":99.0,"dens":0.07},{"temp":16.2,"kwh":99.8,"dens":0.08},{"temp":17.2,"kwh":101.9,"dens":0.07},{"temp":17.35,"kwh":101.6,"dens":0.06},{"temp":17.9,"kwh":103.8,"dens":0.07},{"temp":11.2,"kwh":102.7,"dens":0.06},{"temp":14.1,"kwh":106.2,"dens":0.06},{"temp":15.1,"kwh":108.4,"dens":0.06},{"temp":15.1,"kwh":109.6,"dens":0.05},
      {"temp":20.4,"kwh":119.5,"dens":0.02},{"temp":18.8,"kwh":118.4,"dens":0.02},{"temp":21.4,"kwh":115.5,"dens":0.02},{"temp":19.7,"kwh":115.3,"dens":0.03},{"temp":18.1,"kwh":115.2,"dens":0.04},{"temp":17.2,"kwh":113.9,"dens":0.05},{"temp":17.25,"kwh":113.3,"dens":0.05},{"temp":18.6,"kwh":113.5,"dens":0.05},{"temp":19.0,"kwh":113.4,"dens":0.05},{"temp":19.7,"kwh":112.7,"dens":0.05},{"temp":20.8,"kwh":112.5,"dens":0.03},{"temp":20.05,"kwh":111.1,"dens":0.04},{"temp":19.5,"kwh":110.7,"dens":0.05},{"temp":19.85,"kwh":111.1,"dens":0.05},{"temp":20.2,"kwh":111.4,"dens":0.04},{"temp":18.7,"kwh":109.1,"dens":0.06},{"temp":19.15,"kwh":109.7,"dens":0.05},{"temp":17.0,"kwh":112.6,"dens":0.06},{"temp":17.85,"kwh":112.2,"dens":0.06},{"temp":18.3,"kwh":112.6,"dens":0.06},{"temp":18.8,"kwh":106.6,"dens":0.06},{"temp":18.9,"kwh":105.6,"dens":0.05},{"temp":18.8,"kwh":104.6,"dens":0.05},{"temp":8.95,"kwh":93.4,"dens":0.04},{"temp":5.35,"kwh":93.5,"dens":0.04},{"temp":4.8,"kwh":93.9,"dens":0.05}
    ],
    "model": [
      {"temp":-3.8,"kwh":101.2},{"temp":-2.95,"kwh":101.0},{"temp":-1.6,"kwh":100.5},{"temp":-1.3,"kwh":100.45},{"temp":-1.15,"kwh":100.5},
      {"temp":-1.0,"kwh":100.35},{"temp":-0.8,"kwh":100.32},{"temp":-0.6,"kwh":100.29},{"temp":-0.4,"kwh":100.26},{"temp":-0.2,"kwh":100.23},{"temp":0.0,"kwh":100.2},{"temp":0.2,"kwh":100.16},{"temp":0.4,"kwh":100.12},{"temp":0.6,"kwh":100.08},{"temp":0.8,"kwh":100.04},{"temp":1.0,"kwh":100.0},{"temp":1.2,"kwh":99.96},{"temp":1.4,"kwh":99.92},{"temp":1.6,"kwh":99.88},{"temp":1.8,"kwh":99.84},{"temp":2.0,"kwh":99.8},{"temp":2.2,"kwh":99.76},{"temp":2.4,"kwh":99.72},{"temp":2.6,"kwh":99.68},{"temp":2.8,"kwh":99.64},{"temp":3.0,"kwh":99.6},{"temp":3.2,"kwh":99.57},{"temp":3.4,"kwh":99.54},{"temp":3.6,"kwh":99.51},{"temp":3.8,"kwh":99.48},{"temp":4.0,"kwh":99.45},{"temp":4.2,"kwh":99.42},{"temp":4.4,"kwh":99.39},{"temp":4.6,"kwh":99.36},{"temp":4.8,"kwh":99.33},{"temp":5.0,"kwh":99.3},{"temp":5.2,"kwh":99.28},{"temp":5.4,"kwh":99.26},{"temp":5.6,"kwh":99.24},{"temp":5.8,"kwh":99.22},{"temp":6.0,"kwh":99.2},{"temp":6.2,"kwh":99.18},{"temp":6.4,"kwh":99.16},{"temp":6.6,"kwh":99.14},{"temp":6.8,"kwh":99.12},{"temp":7.0,"kwh":99.1},{"temp":7.2,"kwh":99.09},{"temp":7.4,"kwh":99.08},{"temp":7.6,"kwh":99.08},{"temp":7.8,"kwh":99.08},{"temp":8.0,"kwh":99.08},{"temp":8.2,"kwh":99.09},{"temp":8.4,"kwh":99.1},{"temp":8.6,"kwh":99.11},{"temp":8.8,"kwh":99.13},{"temp":9.0,"kwh":99.15},{"temp":9.2,"kwh":99.19},{"temp":9.4,"kwh":99.24},{"temp":9.6,"kwh":99.29},{"temp":9.8,"kwh":99.34},{"temp":10.0,"kwh":99.4},{"temp":10.2,"kwh":99.47},{"temp":10.4,"kwh":99.55},{"temp":10.6,"kwh":99.63},{"temp":10.8,"kwh":99.71},{"temp":11.0,"kwh":99.8},{"temp":11.2,"kwh":99.91},{"temp":11.4,"kwh":100.03},{"temp":11.6,"kwh":100.15},{"temp":11.8,"kwh":100.27},{"temp":12.0,"kwh":100.4},{"temp":12.2,"kwh":100.56},{"temp":12.4,"kwh":100.73},{"temp":12.6,"kwh":100.9},{"temp":12.8,"kwh":101.1},{"temp":13.0,"kwh":101.3},
      {"temp":13.1,"kwh":101.42},{"temp":13.2,"kwh":101.55},{"temp":13.3,"kwh":101.68},{"temp":13.4,"kwh":101.81},{"temp":13.5,"kwh":101.94},{"temp":13.6,"kwh":102.07},{"temp":13.7,"kwh":102.2},{"temp":13.8,"kwh":102.33},{"temp":13.9,"kwh":102.46},{"temp":14.0,"kwh":102.6},{"temp":14.1,"kwh":102.75},{"temp":14.2,"kwh":102.9},{"temp":14.3,"kwh":103.05},{"temp":14.4,"kwh":103.2},{"temp":14.5,"kwh":103.35},{"temp":14.6,"kwh":103.5},{"temp":14.7,"kwh":103.65},{"temp":14.8,"kwh":103.8},{"temp":14.9,"kwh":103.95},{"temp":15.0,"kwh":104.1},{"temp":15.1,"kwh":104.28},{"temp":15.2,"kwh":104.46},{"temp":15.3,"kwh":104.64},{"temp":15.4,"kwh":104.82},{"temp":15.5,"kwh":105.0},{"temp":15.6,"kwh":105.18},{"temp":15.7,"kwh":105.36},{"temp":15.8,"kwh":105.54},{"temp":15.9,"kwh":105.72},{"temp":16.0,"kwh":105.9},{"temp":16.1,"kwh":106.08},{"temp":16.2,"kwh":106.26},{"temp":16.3,"kwh":106.44},{"temp":16.4,"kwh":106.62},{"temp":16.5,"kwh":106.8},{"temp":16.6,"kwh":106.98},{"temp":16.7,"kwh":107.16},{"temp":16.8,"kwh":107.34},{"temp":16.9,"kwh":107.52},{"temp":17.0,"kwh":107.7},{"temp":17.1,"kwh":107.92},{"temp":17.2,"kwh":108.14},{"temp":17.3,"kwh":108.36},{"temp":17.4,"kwh":108.58},{"temp":17.5,"kwh":108.8},{"temp":17.6,"kwh":109.02},
      {"temp":17.75,"kwh":109.3},{"temp":17.9,"kwh":109.65},{"temp":18.05,"kwh":109.95},{"temp":18.2,"kwh":110.25},{"temp":18.4,"kwh":110.7},{"temp":18.55,"kwh":111.05},{"temp":18.8,"kwh":111.6},{"temp":19.0,"kwh":112.0},{"temp":19.2,"kwh":112.5},{"temp":19.45,"kwh":113.05},{"temp":19.6,"kwh":113.4},{"temp":19.8,"kwh":114.0},{"temp":19.9,"kwh":114.3},{"temp":20.15,"kwh":115.1},{"temp":20.4,"kwh":115.7},{"temp":20.85,"kwh":117.7},{"temp":21.5,"kwh":119.6},
      {"temp":-1.25,"kwh":97.55},{"temp":-1.05,"kwh":97.35},{"temp":-0.85,"kwh":97.3},{"temp":-0.3,"kwh":97.15},{"temp":-0.1,"kwh":97.05},{"temp":0.1,"kwh":97.0},{"temp":0.6,"kwh":96.88},{"temp":0.8,"kwh":96.84},{"temp":1.0,"kwh":96.8},{"temp":1.2,"kwh":96.76},{"temp":1.6,"kwh":96.68},{"temp":1.8,"kwh":96.64},{"temp":2.0,"kwh":96.6},{"temp":2.2,"kwh":96.58},{"temp":2.4,"kwh":96.56},{"temp":2.6,"kwh":96.54},{"temp":2.8,"kwh":96.52},{"temp":3.0,"kwh":96.5},{"temp":3.2,"kwh":96.48},{"temp":3.4,"kwh":96.45},{"temp":3.6,"kwh":96.43},{"temp":3.8,"kwh":96.4},{"temp":4.0,"kwh":96.38},{"temp":4.2,"kwh":96.36},{"temp":4.4,"kwh":96.34},{"temp":4.6,"kwh":96.32},{"temp":4.8,"kwh":96.3},{"temp":5.0,"kwh":96.28},{"temp":5.2,"kwh":96.26},{"temp":5.4,"kwh":96.25},{"temp":5.6,"kwh":96.23},{"temp":5.8,"kwh":96.22},{"temp":6.0,"kwh":96.2},{"temp":6.2,"kwh":96.18},{"temp":6.4,"kwh":96.17},{"temp":6.6,"kwh":96.15},{"temp":6.8,"kwh":96.14},{"temp":7.0,"kwh":96.12},{"temp":7.2,"kwh":96.11},{"temp":7.4,"kwh":96.1},{"temp":7.6,"kwh":96.08},{"temp":7.8,"kwh":96.07},{"temp":8.0,"kwh":96.06},{"temp":8.2,"kwh":96.05},{"temp":8.4,"kwh":96.04},{"temp":8.6,"kwh":96.04},{"temp":8.8,"kwh":96.03},{"temp":9.0,"kwh":96.03},{"temp":9.2,"kwh":96.04},{"temp":9.4,"kwh":96.05},{"temp":9.6,"kwh":96.07},{"temp":9.8,"kwh":96.08},{"temp":10.0,"kwh":96.1},{"temp":10.2,"kwh":96.15},{"temp":10.4,"kwh":96.22},{"temp":10.6,"kwh":96.29},{"temp":10.8,"kwh":96.37},{"temp":11.0,"kwh":96.45},{"temp":11.2,"kwh":96.57},{"temp":11.4,"kwh":96.7},{"temp":11.6,"kwh":96.83},{"temp":11.8,"kwh":96.96},{"temp":12.0,"kwh":97.1},{"temp":12.2,"kwh":97.26},{"temp":12.4,"kwh":97.43},{"temp":12.6,"kwh":97.6},{"temp":12.8,"kwh":97.78},{"temp":13.0,"kwh":97.95},{"temp":13.2,"kwh":98.15},{"temp":13.4,"kwh":98.36},
      {"temp":13.5,"kwh":98.47},{"temp":13.6,"kwh":98.58},{"temp":13.7,"kwh":98.69},{"temp":13.8,"kwh":98.8},{"temp":13.9,"kwh":98.9},{"temp":14.0,"kwh":99.0},{"temp":14.1,"kwh":99.15},{"temp":14.2,"kwh":99.3},{"temp":14.3,"kwh":99.45},{"temp":14.4,"kwh":99.6},{"temp":14.5,"kwh":99.75},{"temp":14.6,"kwh":99.9},{"temp":14.7,"kwh":100.05},{"temp":14.8,"kwh":100.2},{"temp":14.9,"kwh":100.35},{"temp":15.0,"kwh":100.5},{"temp":15.1,"kwh":100.67},{"temp":15.2,"kwh":100.84},{"temp":15.3,"kwh":101.01},{"temp":15.4,"kwh":101.18},{"temp":15.5,"kwh":101.35},{"temp":15.6,"kwh":101.52},{"temp":15.7,"kwh":101.69},{"temp":15.8,"kwh":101.86},{"temp":15.9,"kwh":102.03},{"temp":16.0,"kwh":102.2},{"temp":16.1,"kwh":102.4},{"temp":16.2,"kwh":102.6},{"temp":16.3,"kwh":102.8},{"temp":16.4,"kwh":103.0},{"temp":16.5,"kwh":103.2},{"temp":16.6,"kwh":103.4},{"temp":16.7,"kwh":103.6},{"temp":16.8,"kwh":103.8},{"temp":16.9,"kwh":104.0},{"temp":17.0,"kwh":104.2},{"temp":17.1,"kwh":104.42},{"temp":17.2,"kwh":104.64},
      {"temp":17.35,"kwh":104.97},{"temp":17.45,"kwh":105.19},{"temp":17.6,"kwh":105.52},{"temp":17.75,"kwh":105.85},{"temp":17.9,"kwh":106.18},{"temp":18.05,"kwh":106.55},{"temp":18.2,"kwh":106.95},{"temp":18.35,"kwh":107.4},{"temp":18.5,"kwh":107.9},{"temp":18.7,"kwh":108.6},{"temp":18.9,"kwh":109.2},{"temp":19.15,"kwh":109.8},{"temp":19.5,"kwh":110.3}
    ],
    "box": [{"t1":18.87,"t2":22.2,"k1":101.72,"k2":107.46}]
  },
  "layer": [
    {
      "data": {"name": "metered"},
      "mark": {"type": "point", "filled": true, "size": 40, "opacity": 1},
      "encoding": {
        "x": {"field": "temp", "type": "quantitative", "scale": {"domain": [-8.45, 22.2], "nice": false, "zero": false},
              "axis": {"values": [-5, 0, 5, 10, 15, 20], "title": "Temperature (°C)", "titleX": 222, "labelPadding": 9, "titlePadding": 7}},
        "y": {"field": "kwh", "type": "quantitative", "scale": {"domain": [90.0, 121.4], "nice": false, "zero": false},
              "axis": {"values": [95, 100, 105, 110, 115, 120], "title": "Demand (kWh)", "labelPadding": 12, "titlePadding": 7}},
        "color": {"field": "dens", "type": "quantitative", "legend": null,
                  "scale": {"domain": [0, 1], "range": ["#178a6c", "#38a366", "#86c853", "#d0e852", "#f3f660"]}},
        "order": {"field": "dens", "type": "quantitative", "sort": "ascending"}
      }
    },
    {
      "data": {"name": "model"},
      "mark": {"type": "point", "filled": true, "size": 32, "opacity": 1},
      "encoding": {
        "x": {"field": "temp", "type": "quantitative"},
        "y": {"field": "kwh", "type": "quantitative"},
        "fill": {"datum": "Deterministic Model", "type": "nominal",
                 "scale": {"domain": ["Metered Demand", "Deterministic Model"], "range": ["#2e9a6e", "#000000"]},
                 "legend": {"orient": "none", "legendX": 30, "legendY": 19, "title": null, "padding": 0,
                            "symbolType": "circle", "symbolSize": 25, "symbolStrokeWidth": 0,
                            "labelFontSize": 17.5, "labelFont": "Lato", "labelColor": "#2b2b2b",
                            "labelOffset": 26, "rowPadding": 12, "labelLimit": 300}}
      }
    },
    {
      "data": {"name": "box"},
      "mark": {"type": "rect", "color": "#92d050", "opacity": 1},
      "encoding": {
        "x": {"field": "t1", "type": "quantitative"},
        "x2": {"field": "t2"},
        "y": {"field": "k1", "type": "quantitative"},
        "y2": {"field": "k2"}
      }
    }
  ],
  "config": {
    "view": {"fill": "#EAEAF2", "stroke": null},
    "axis": {
      "domain": false, "ticks": false, "tickSize": 0, "grid": true, "gridColor": "#ffffff", "gridWidth": 1.2,
      "labelFont": "Liberation Serif", "labelFontSize": 16.5, "labelColor": "#333333",
      "titleFont": "Lato", "titleFontSize": 17.5, "titleFontWeight": "normal", "titleColor": "#333333"
    }
  }
}
